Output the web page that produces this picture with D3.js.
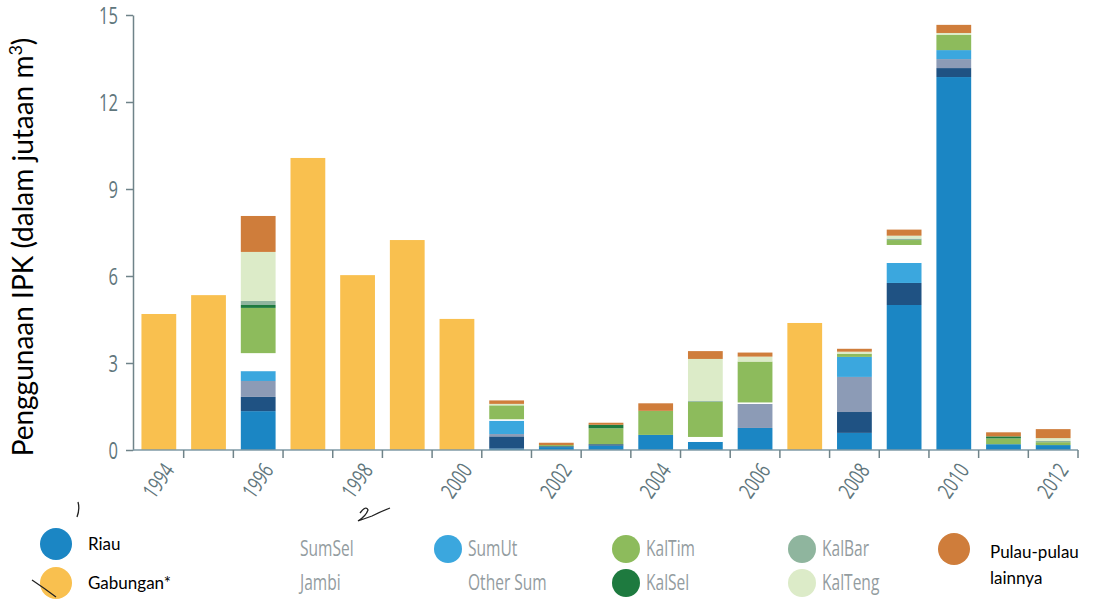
<!DOCTYPE html>
<html><head><meta charset="utf-8">
<script src="https://cdn.jsdelivr.net/npm/d3@7"></script>
<style>
html,body{margin:0;padding:0;background:#fff;}
svg{display:block;}
</style></head>
<body>
<svg id="chart" width="1099" height="599"></svg>
<script>
const years = [1994,1995,1996,1997,1998,1999,2000,2001,2002,2003,2004,2005,2006,2007,2008,2009,2010,2011,2012];
const labelYears = [1994,1996,1998,2000,2002,2004,2006,2008,2010,2012];
const yTicks = [0,3,6,9,12,15];

const gabungan = [4.69,5.34,0,10.07,6.03,7.24,4.52,0,0,0,0,0,0,4.38,0,0,0,0,0];
const riau     = [0,0,1.34,0,0,0,0,0.05,0.10,0.15,0.52,0.28,0.76,0,0.59,5.00,12.86,0.20,0.17];
const sumsel   = [0,0,0.49,0,0,0,0,0.42,0.03,0.05,0,0,0,0,0.72,0.76,0.31,0,0];
const jambi    = [0,0,0.55,0,0,0,0,0.08,0,0,0,0,0.83,0,1.21,0,0.31,0,0];
const sumut    = [0,0,0.34,0,0,0,0,0.46,0,0,0,0,0,0,0.69,0.69,0.31,0,0];
const otherSum = [0,0,0.62,0,0,0,0,0.05,0,0,0,0.17,0.05,0,0,0.62,0,0,0];
const kaltim   = [0,0,1.56,0,0,0,0,0.48,0.04,0.55,0.83,1.21,1.41,0,0.11,0.17,0.52,0.20,0.10];
const kalsel   = [0,0,0.10,0,0,0,0,0,0,0.12,0,0,0,0,0,0,0,0.07,0];
const kalbar   = [0,0,0.14,0,0,0,0,0,0,0,0,0.03,0,0,0,0.05,0,0,0.04];
const kalteng  = [0,0,1.69,0,0,0,0,0.05,0,0,0,1.45,0.17,0,0.07,0.10,0.07,0,0.10];
const pulau    = [0,0,1.24,0,0,0,0,0.12,0.08,0.07,0.26,0.27,0.14,0,0.10,0.21,0.28,0.14,0.31];

const seriesKeys   = ["Gabungan*","Riau","SumSel","Jambi","SumUt","Other Sum","KalTim","KalSel","KalBar","KalTeng","Pulau-pulau lainnya"];
const seriesValues = [gabungan,riau,sumsel,jambi,sumut,otherSum,kaltim,kalsel,kalbar,kalteng,pulau];
const seriesColors = ["#f9c04f","#1b86c4","#1f5283","#8c9bb6","#3ba7de","#ffffff","#8dbb5c","#1e7a3f","#8fb59e","#dcebc8","#cf7d3b"];

const yTitle = "Penggunaan IPK (dalam jutaan m";
const SANS = "Lato,'Open Sans',sans-serif";
const COND = "'Open Sans','Noto Sans',sans-serif";

function condense(sel, f){
  sel.each(function(){
    const w = this.getComputedTextLength();
    d3.select(this).attr("textLength", w*f).attr("lengthAdjust","spacingAndGlyphs");
  });
}

const svg = d3.select("#chart");
const rows = years.map((yr,i)=>{const o={year:yr}; seriesKeys.forEach((k,j)=>o[k]=seriesValues[j][i]); return o;});
const stack = d3.stack().keys(seriesKeys)(rows);

const x = d3.scaleBand().domain(years).range([133,1079]).paddingInner(0.3).paddingOuter(0.17);
const y = d3.scaleLinear().domain([0,15]).range([450,15]);
const color = d3.scaleOrdinal().domain(seriesKeys).range(seriesColors);

// bars
svg.append("g").selectAll("g").data(stack).join("g")
  .attr("fill", d=>color(d.key))
  .selectAll("rect").data(d=>d).join("rect")
  .attr("x", d=>x(d.data.year))
  .attr("width", x.bandwidth())
  .attr("y", d=>y(d[1]))
  .attr("height", d=>Math.max(0, y(d[0])-y(d[1])));

// y axis
const yAxis = svg.append("g").attr("transform","translate(133,0)")
  .call(d3.axisLeft(y).tickValues(yTicks).tickSize(7).tickSizeOuter(0).tickPadding(8));
yAxis.select(".domain").attr("stroke","#6f8389").attr("stroke-width",1.5);
yAxis.selectAll(".tick line").attr("stroke","#6f8389").attr("stroke-width",1.5);
yAxis.selectAll("text").attr("font-family",COND).attr("fill","#5f767c").attr("font-size",23).attr("dy","0.36em");
condense(yAxis.selectAll("text"), 0.72);

// x axis
const step = x.step();
const bounds = years.map(yr=>x(yr)+x.bandwidth()+step*x.paddingInner()/2);
const xg = svg.append("g").attr("transform","translate(0,450)");
xg.append("line").attr("x1",133).attr("x2",bounds[bounds.length-1]).attr("stroke","#7f9aa6").attr("stroke-width",1.5);
xg.selectAll(".bt").data(bounds).join("line").attr("class","bt")
  .attr("x1",d=>d).attr("x2",d=>d).attr("y1",0).attr("y2",8)
  .attr("stroke","#6f8389").attr("stroke-width",1.5);
const xl = xg.selectAll(".xl").data(labelYears).join("text").attr("class","xl")
  .attr("transform",d=>`translate(${x(d)+x.bandwidth()/2+10},${16}) rotate(-55)`)
  .attr("text-anchor","end").attr("dy","0.35em").attr("font-family",COND)
  .attr("fill","#5f767c").attr("font-size",22).text(d=>d);
condense(xl, 0.72);

// y title
const t = svg.append("text").attr("transform","translate(33,247) rotate(-90)")
  .attr("text-anchor","middle").attr("font-family",SANS)
  .attr("font-size",28).attr("fill","#000");
t.append("tspan").text(yTitle);
t.append("tspan").attr("font-size",18).attr("dy",-11).text("3");
t.append("tspan").attr("dy",11).text(")");

// legend
const legendNames  = ["Riau","Gabungan*","SumSel","Jambi","SumUt","Other Sum","KalTim","KalSel","KalBar","KalTeng"];
const legendCircle = [true,true,false,false,true,false,true,true,true,true];
const legendDark   = [true,true,false,false,false,false,false,false,false,false];
const legendPos = [[56,544],[56,583],[280,549],[280,583],[448,549],[448,583],[626,549],[626,583],[802,549],[802,583]];
const lg = svg.append("g");
legendNames.forEach((n,i)=>{
  const [cx,cy]=legendPos[i];
  const big = legendDark[i];
  if(legendCircle[i]) lg.append("circle").attr("cx",cx).attr("cy",cy).attr("r",big?16:14).attr("fill",color(n));
  const tx = lg.append("text").attr("x", cx + (big?32:20)).attr("y",cy).attr("dy","0.35em").text(n);
  if(big) tx.attr("font-family",SANS).attr("font-size",17).attr("fill","#000");
  else { tx.attr("font-family",COND).attr("font-size",21).attr("fill","#939ca0"); condense(tx, 0.74); }
});
lg.append("circle").attr("cx",954).attr("cy",549).attr("r",16).attr("fill",color("Pulau-pulau lainnya"));
const pt = lg.append("text").attr("font-family",SANS).attr("font-size",17).attr("fill","#000");
pt.append("tspan").attr("x",990).attr("y",558).text("Pulau-pulau");
pt.append("tspan").attr("x",990).attr("y",584).text("lainnya");

// scan pen marks
const marks = svg.append("g").attr("fill","none").attr("stroke","#222").attr("stroke-width",1.3);
marks.append("path").attr("d","M78,502 Q80,509 77,517");
marks.append("path").attr("d","M360,513 Q366,505 368,510 Q366,516 358,521 L372,516 Q380,512 390,508");
marks.append("path").attr("d","M32,580 Q44,588 56,597");
</script>
</body></html>
